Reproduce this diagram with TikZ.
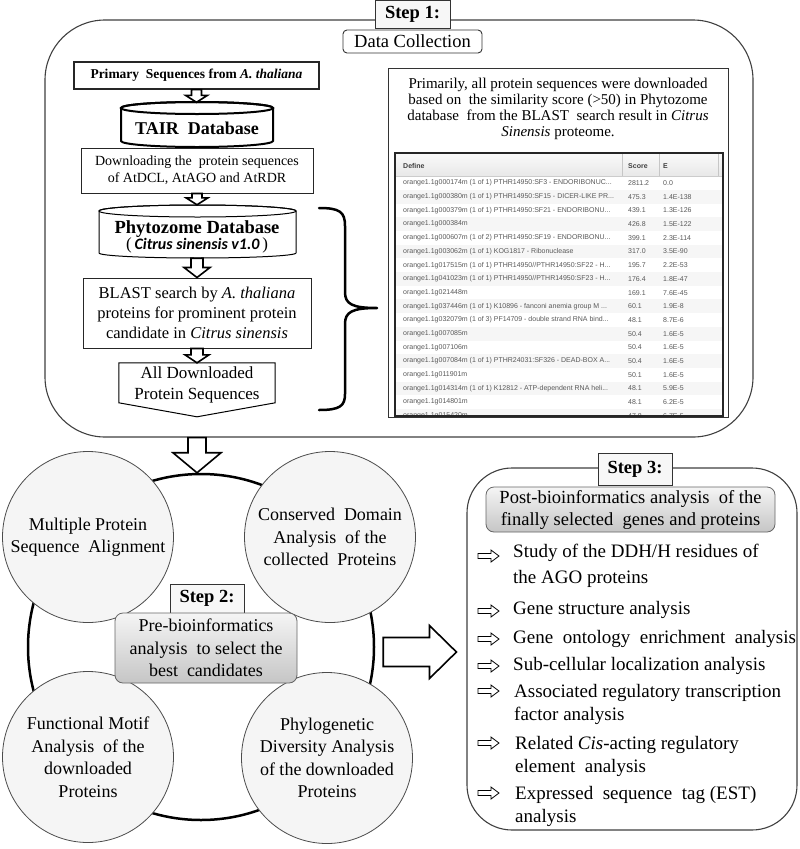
\documentclass[tikz,border=0pt]{standalone}
\usepackage{fontspec}
\setmainfont{Liberation Serif}
\newfontfamily\tabfont{Liberation Sans}
\newfontfamily\calfont{Carlito}
\usetikzlibrary{calc}
\newcommand{\fs}[2]{\fontsize{#1}{#2}\selectfont}
% hollow block arrow, vertical (downwards)
\newcommand{\vblock}[5]{\draw[blk] let \p1=(#1), \p2=(#2) in (\x1-#3,\y1) -- (\x1-#3,\y2+#5) -- (\x1-#4,\y2+#5) -- (\x1,\y2) -- (\x1+#4,\y2+#5) -- (\x1+#3,\y2+#5) -- (\x1+#3,\y1) -- cycle;}
% hollow block arrow, horizontal (to the right)
\newcommand{\hblock}[5]{\draw[blk] let \p1=(#1), \p2=(#2) in (\x1,\y1+#3) -- (\x2-#5,\y1+#3) -- (\x2-#5,\y1+#4) -- (\x2,\y1) -- (\x2-#5,\y1-#4) -- (\x2-#5,\y1-#3) -- (\x1,\y1-#3) -- cycle;}
\newcommand{\itemarr}[1]{\draw[line width=0.8pt, fill=white] (478,#1-2.5) -- (491,#1-2.5) -- (491,#1-6) -- (499,#1) -- (491,#1+6) -- (491,#1+2.5) -- (478,#1+2.5) -- cycle;}
\newcommand{\trow}[4]{%
  \pgfmathsetmacro{\ry}{183+13.7*(#1-1)}%
  \ifodd#1\relax\else\fill[gray!7] (396,\ry-6.85) rectangle (722,\ry+6.85);\fi
  \node[tabtxt] (r#1a) at (403,\ry) {#2};
  \node[tabtxt] (r#1b) at (628,\ry) {#3};
  \node[tabtxt] (r#1c) at (663,\ry) {#4};}
\begin{document}
\begin{tikzpicture}[x=1pt,y=-1pt,
  panel/.style={draw=black!75, line width=1.1pt},
  steplabel/.style={draw=black!80, fill=gray!6, line width=0.9pt, inner sep=0pt, font=\fs{18.5}{22}\bfseries},
  flowbox/.style={draw=black!85, line width=1pt, fill=white, inner sep=0pt, align=center},
  blk/.style={draw=black, line width=1.6pt, fill=white, line join=miter},
  bubble/.style={circle, draw=black!70, line width=0.8pt, fill=gray!8, minimum size=171pt, inner sep=0pt, align=center, font=\fs{18}{22.5}},
  grbox/.style={draw=black!60, line width=0.8pt, rounded corners=8pt, top color=gray!8, bottom color=gray!45, inner sep=0pt, align=center},
  tabtxt/.style={anchor=west, inner sep=0pt, font=\tabfont\fs{7}{8}, text=black!65},
  tabhead/.style={anchor=west, inner sep=0pt, font=\tabfont\bfseries\fs{7}{8}, text=black!75},
  itemtxt/.style={anchor=base west, inner sep=0pt, font=\fs{19}{23}},
  plain/.style={inner sep=0pt, align=center}
]
\useasboundingbox (0,0) rectangle (800,849);
\fill[white] (0,0) rectangle (800,849);

% ================= STEP 1 =================
\node[panel, rounded corners=60pt, minimum width=708pt, minimum height=417pt, inner sep=0pt] (step1) at (399,228.5) {};
\node[steplabel, minimum width=75pt, minimum height=28pt] (s1lab) at (412.5,14) {Step 1:};
\node[draw=black!80, line width=0.9pt, fill=white, rounded corners=4pt, minimum width=139pt, minimum height=23pt, inner sep=0pt, font=\fs{18.5}{20}] (datacol) at (412.5,41.5) {Data Collection};

% left flow
\node[flowbox, line width=1.2pt, minimum width=245pt, minimum height=27pt, font=\fs{13.5}{16}\bfseries] (primary) at (196.5,75.5) {Primary~ Sequences from \textit{A. thaliana}};

\draw[line width=2pt, fill=white] (121,108) -- (121,141) arc[start angle=180, end angle=0, x radius=76, y radius=6] -- (273,108) arc[start angle=0, end angle=-180, x radius=76, y radius=6] -- cycle;
\draw[line width=2pt] (197,108) ellipse[x radius=76, y radius=6];
\node[plain, minimum width=152pt, minimum height=51pt, font=\fs{18}{20}\bfseries] (tair) at (197,128) {TAIR~ Database};

\node[flowbox, minimum width=232pt, minimum height=45pt, font=\fs{14}{17}] (download) at (197,170.5) {Downloading the~ protein sequences\\of AtDCL, AtAGO and AtRDR};

\draw[line width=1pt, fill=white] (99,211) -- (99,253) arc[start angle=180, end angle=0, x radius=98.5, y radius=5] -- (296,211) arc[start angle=0, end angle=-180, x radius=98.5, y radius=6] -- cycle;
\draw[line width=1pt] (197.5,211) ellipse[x radius=98.5, y radius=6];
\node[plain, minimum width=197pt, minimum height=53pt] (phyto) at (197,231.5) {};
\node[plain] (phytotxt) at (197,237) {{\fs{18.5}{20}\bfseries Phytozome Database}\\[-1pt]{\fs{17}{20}(\,{\calfont\fs{16}{20}\bfseries\itshape Citrus sinensis v1.0}\,)}};

\node[flowbox, minimum width=228pt, minimum height=70pt, font=\fs{16.5}{20}] (blast) at (197,313) {BLAST search by \textit{A. thaliana}\\proteins for prominent protein\\candidate in \textit{Citrus sinensis}};

\node[plain, minimum width=156pt, minimum height=44pt, font=\fs{17}{21}] (allseq) at (197,385) {All Downloaded\\Protein Sequences};
\draw[line width=1pt] (allseq.north west) -- (allseq.north east) -- ($(allseq.north east)+(0,40)$) -- ($(allseq.north)+(0,54)$) -- ($(allseq.north west)+(0,40)$) -- cycle;

\vblock{primary.south}{tair.north}{5pt}{11pt}{7pt}
\vblock{download.south}{phyto.north}{5pt}{11pt}{7pt}
\vblock{phyto.south}{blast.north}{6pt}{13pt}{10pt}
\vblock{blast.south}{allseq.north}{6pt}{12pt}{8pt}

% brace
\draw[line width=2.5pt, line join=round, line cap=round] (319,208) .. controls (340,208) and (345,212) .. (345,226) -- (345,292) .. controls (345,304) and (352,308) .. (377,308) .. controls (352,308) and (345,312) .. (345,324) -- (345,394) .. controls (345,406) and (340,410) .. (319,410);

% right panel
\node[draw=black!80, line width=1pt, minimum width=340pt, minimum height=349pt, inner sep=0pt] (panel) at (558,242.5) {};
\node[plain, font=\fs{15}{16}] (para) at (558,109) {Primarily, all protein sequences were downloaded\\based on~ the similarity score (>50) in Phytozome\\database~ from the BLAST~ search result in \textit{Citrus}\\\textit{Sinensis} proteome.};
\begin{scope}
\clip (395,153) rectangle (723,416);
\fill[white] (395,153) rectangle (723,416);
\shade[top color=gray!4, bottom color=gray!18] (395,153) rectangle (723,176);
\draw[gray!45, line width=0.6pt] (622,153) -- (622,176) (659,153) -- (659,176) (718,153) -- (718,176);
\draw[gray!40, line width=0.5pt] (395,176) -- (723,176);
\node[tabhead] (hdef) at (403,166) {Define};
\node[tabhead] (hsco) at (628,166) {Score};
\node[tabhead] (he) at (663,166) {E};
\trow{1}{orange1.1g000174m (1 of 1) PTHR14950:SF3 - ENDORIBONUC...}{2811.2}{0.0}
\trow{2}{orange1.1g000380m (1 of 1) PTHR14950:SF15 - DICER-LIKE PR...}{475.3}{1.4E-138}
\trow{3}{orange1.1g000379m (1 of 1) PTHR14950:SF21 - ENDORIBONU...}{439.1}{1.3E-126}
\trow{4}{orange1.1g000384m}{426.8}{1.5E-122}
\trow{5}{orange1.1g000607m (1 of 2) PTHR14950:SF19 - ENDORIBONU...}{399.1}{2.3E-114}
\trow{6}{orange1.1g003062m (1 of 1) KOG1817 - Ribonuclease}{317.0}{3.5E-90}
\trow{7}{orange1.1g017515m (1 of 1) PTHR14950//PTHR14950:SF22 - H...}{195.7}{2.2E-53}
\trow{8}{orange1.1g041023m (1 of 1) PTHR14950//PTHR14950:SF23 - H...}{176.4}{1.8E-47}
\trow{9}{orange1.1g021448m}{169.1}{7.6E-45}
\trow{10}{orange1.1g037446m (1 of 1) K10896 - fanconi anemia group M ...}{60.1}{1.9E-8}
\trow{11}{orange1.1g032079m (1 of 3) PF14709 - double strand RNA bind...}{48.1}{8.7E-6}
\trow{12}{orange1.1g007085m}{50.4}{1.6E-5}
\trow{13}{orange1.1g007106m}{50.4}{1.6E-5}
\trow{14}{orange1.1g007084m (1 of 1) PTHR24031:SF326 - DEAD-BOX A...}{50.4}{1.6E-5}
\trow{15}{orange1.1g011901m}{50.1}{1.6E-5}
\trow{16}{orange1.1g014314m (1 of 1) K12812 - ATP-dependent RNA heli...}{48.1}{5.9E-5}
\trow{17}{orange1.1g014801m}{48.1}{6.2E-5}
\trow{18}{orange1.1g015420m}{47.8}{6.7E-5}
\end{scope}
\node[draw=black!85, line width=1.4pt, minimum width=328pt, minimum height=263pt, inner sep=0pt] (tbl) at (559,284.5) {};

% ================= STEP 2 =================
\node[circle, draw=black, line width=2.5pt, minimum size=346pt, inner sep=0pt] (ring) at (201,647) {};
\vblock{step1.south -| allseq.south}{ring.north}{9pt}{24pt}{20pt}
\node[bubble] (c1) at (88,537) {Multiple Protein\\Sequence~ Alignment};
\node[bubble] (c2) at (330,537) {Conserved~ Domain\\Analysis~ of the\\collected~ Proteins};
\node[bubble] (c3) at (88,757) {Functional Motif\\Analysis~ of the\\downloaded\\Proteins};
\node[bubble] (c4) at (327,758) {Phylogenetic\\Diversity Analysis\\of the downloaded\\Proteins};
\node[steplabel, minimum width=74pt, minimum height=29pt] (s2lab) at (207,598.5) {Step 2:};
\node[grbox, minimum width=182pt, minimum height=70pt, font=\fs{18}{22.5}] (pre) at (206,648) {Pre-bioinformatics\\analysis~ to select the\\best~ candidates};

% ================= STEP 3 =================
\node[panel, rounded corners=45pt, minimum width=330pt, minimum height=362pt, inner sep=0pt] (step3) at (632,649) {};
\coordinate (ra1) at ($(ring.east)+(8,5)$);
\coordinate (ra2) at ($(step3.west)+(-10,3)$);
\hblock{ra1}{ra2}{14.5pt}{26.5pt}{27pt}
\node[steplabel, minimum width=74pt, minimum height=32pt] (s3lab) at (635,469) {Step 3:};
\node[grbox, minimum width=289pt, minimum height=45pt, font=\fs{18.5}{22}] (post) at (630.5,509.5) {Post-bioinformatics analysis~ of the\\finally selected~ genes and proteins};

\itemarr{556}
\node[itemtxt] (it1a) at (513,557.5) {Study of the DDH/H residues of};
\node[itemtxt] (it1b) at (513,583.5) {the AGO proteins};
\itemarr{611}
\node[itemtxt] (it2) at (513,614.5) {Gene structure analysis};
\itemarr{639}
\node[itemtxt] (it3) at (513,643.5) {Gene~ ontology~ enrichment~ analysis};
\itemarr{666}
\node[itemtxt] (it4) at (513,670.5) {Sub-cellular localization analysis};
\itemarr{691}
\node[itemtxt] (it5a) at (514,697.5) {Associated regulatory transcription};
\node[itemtxt] (it5b) at (514,720.5) {factor analysis};
\itemarr{743}
\node[itemtxt] (it6a) at (515,749.5) {Related \textit{Cis}-acting regulatory};
\node[itemtxt] (it6b) at (515,772.5) {element~ analysis};
\itemarr{793}
\node[itemtxt] (it7a) at (515,799.5) {Expressed~ sequence~ tag (EST)};
\node[itemtxt] (it7b) at (515,822.5) {analysis};
\end{tikzpicture}
\end{document}
